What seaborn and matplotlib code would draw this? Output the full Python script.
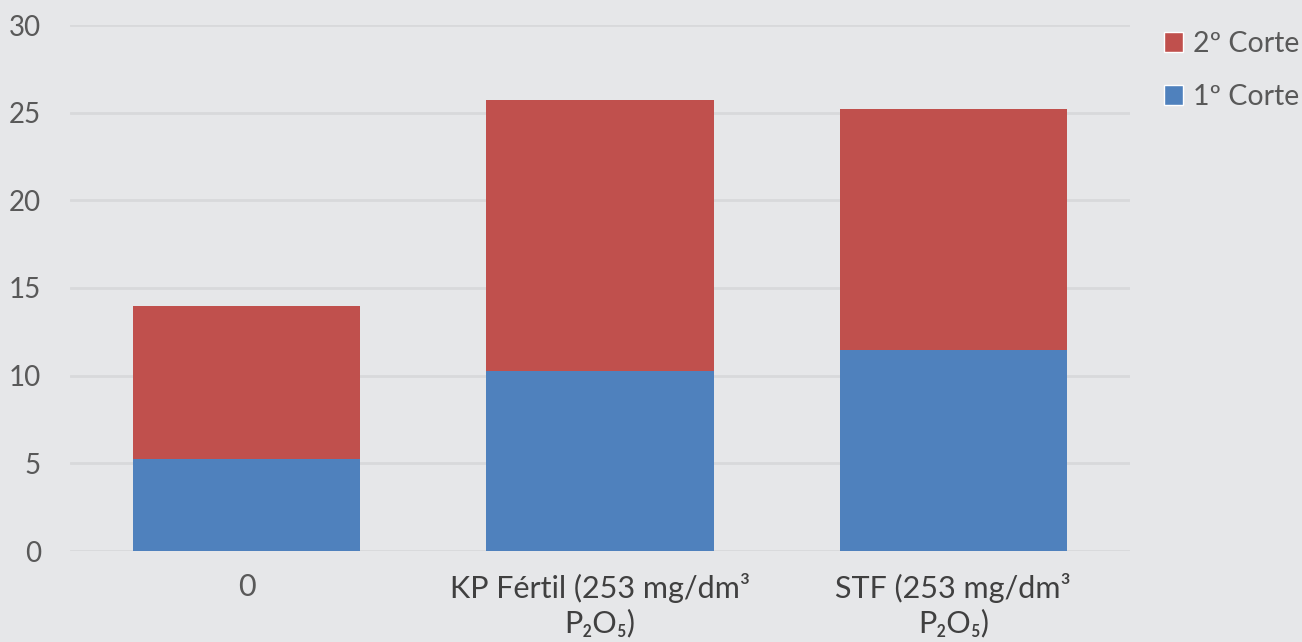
import pandas as pd
import matplotlib
matplotlib.use('Agg')
import matplotlib.pyplot as plt
from matplotlib.patches import Patch
import seaborn as sns

# --- Data ---
categories = ['0', 'KP Fértil (253 mg/dm³\nP₂O₅)', 'STF (253 mg/dm³\nP₂O₅)']
corte1 = [5.25, 10.25, 11.45]
corte2 = [8.7, 15.5, 13.75]

BG = '#E6E7E9'
GRID = '#D8D9DB'
BLUE = '#4F81BD'
RED = '#C0504D'
TXT = '#595959'

sns.set_theme(style='white')
plt.rcParams['font.family'] = ['Lato', 'DejaVu Sans']

df = pd.DataFrame({'cat': categories, 'c1': corte1, 'c2': corte2})
df['total'] = df['c1'] + df['c2']

fig = plt.figure(figsize=(13.02, 6.42), dpi=100, facecolor=BG)
ax = fig.add_axes([70 / 1302, 1 - 551 / 642, 1060 / 1302, 526 / 642])
ax.set_facecolor(BG)

# barres empilées : total (rouge) puis 1º corte (bleu) par-dessus
sns.barplot(data=df, x='cat', y='total', color=RED, width=0.644,
            saturation=1, ax=ax, zorder=2, linewidth=0)
sns.barplot(data=df, x='cat', y='c1', color=BLUE, width=0.644,
            saturation=1, ax=ax, zorder=3, linewidth=0)

ax.set_ylim(0, 30)
ax.set_yticks([0, 5, 10, 15, 20, 25, 30])
ax.yaxis.grid(True, color=GRID, linewidth=2, zorder=0)
ax.set_axisbelow(True)
for s in ax.spines.values():
    s.set_visible(False)
ax.set_xlabel('')
ax.set_ylabel('')
ax.tick_params(axis='y', length=0, pad=21, labelsize=20, labelcolor=TXT)
ax.tick_params(axis='x', length=0, pad=16, labelsize=22, labelcolor='#404040')
for t in ax.get_xticklabels():
    t.set_linespacing(1.25)
ax.get_xticklabels()[0].set_color(TXT)

handles = [Patch(facecolor=RED, label='2º Corte'), Patch(facecolor=BLUE, label='1º Corte')]
fig.legend(handles=handles, loc='upper left', bbox_to_anchor=(1164 / 1302, 1 - 31 / 642),
           frameon=False, fontsize=20.5, labelcolor=TXT, handlelength=0.68, handleheight=0.68,
           handletextpad=0.33, labelspacing=0.95, borderpad=0, borderaxespad=0)

fig.savefig('out.png', dpi=100, facecolor=BG)
